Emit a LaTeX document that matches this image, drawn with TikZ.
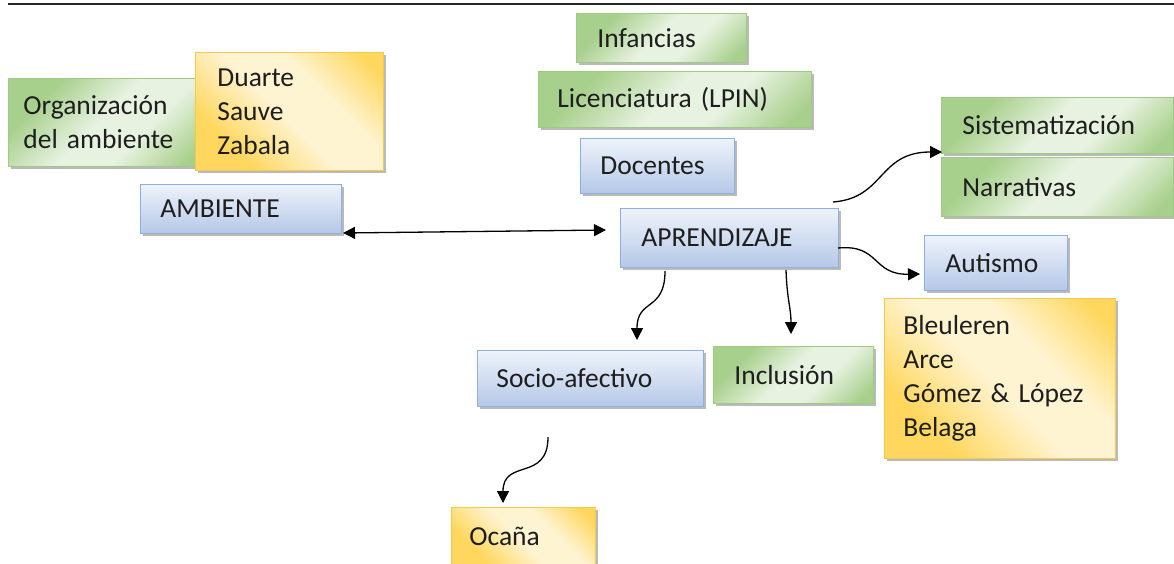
\documentclass[tikz,border=0pt]{standalone}
\usepackage{fontspec}
\setmainfont{Carlito}[WordSpace=0.8]
\usetikzlibrary{arrows.meta,shadows}
\definecolor{gD}{HTML}{A8D08D}
\definecolor{gL}{HTML}{E7F2E0}
\definecolor{gB}{HTML}{9FC985}
\definecolor{bT}{HTML}{EEF3FA}
\definecolor{bBt}{HTML}{B5C8E8}
\definecolor{bB}{HTML}{8FB0DE}
\definecolor{yD}{HTML}{FFD75E}
\definecolor{yL}{HTML}{FFF4D2}
\definecolor{yB}{HTML}{F5C94A}
\definecolor{txt}{HTML}{1E1E1E}
\pgfdeclarehorizontalshading{gsh}{100bp}{color(0bp)=(gD); color(28bp)=(gD); color(48bp)=(gL); color(62bp)=(gL); color(80bp)=(gD); color(100bp)=(gD)}
\pgfdeclarehorizontalshading{ysh}{100bp}{color(0bp)=(yD); color(28bp)=(yD); color(48bp)=(yL); color(62bp)=(yL); color(80bp)=(yD); color(100bp)=(yD)}
\tikzset{
  box/.style={rectangle, anchor=north west, inner ysep=0pt, align=left,
    text=txt, line width=0.8pt,
    font=\fontsize{27.5pt}{34pt}\selectfont,
    drop shadow={shadow xshift=3pt, shadow yshift=-3pt, fill=black!45, opacity=0.6}},
  gbox/.style={box, draw=gB, shade, shading=gsh, shading angle=-45},
  bbox/.style={box, draw=bB, top color=bT, bottom color=bBt},
  ybox/.style={box, draw=yB, shade, shading=ysh, shading angle=45},
  conn/.style={line width=1.3pt, -{Triangle[length=12pt,width=12pt]}},
}
\begin{document}
\begin{tikzpicture}[x=1pt,y=-1pt]
\useasboundingbox (0,0) rectangle (1174,563);
\coordinate (lineL) at (8,4);
\coordinate (lineR) at (1174,4);
\draw[line width=2.2pt, black!85] (lineL) -- (lineR);

\node[gbox, inner xsep=15pt, text width=165pt, minimum height=88pt] (org) at (8,78) {Organización\\del ambiente};
\node[ybox, inner xsep=22pt, text width=144pt, minimum height=118pt] (duarte) at (195,52) {Duarte\\Sauve\\Zabala};
\node[bbox, inner xsep=20pt, text width=161pt, minimum height=49pt] (amb) at (140,184) {AMBIENTE};

\node[gbox, inner xsep=21pt, text width=128pt, minimum height=49pt] (inf) at (576,13) {Infancias};
\node[gbox, inner xsep=19pt, text width=235pt, minimum height=56pt] (lic) at (538,71) {Licenciatura (LPIN)};
\node[bbox, inner xsep=20pt, text width=114pt, minimum height=55pt] (doc) at (580,138) {Docentes};
\node[bbox, inner xsep=21pt, text width=176pt, minimum height=59pt] (apr) at (620,208) {APRENDIZAJE};

\node[gbox, inner xsep=21pt, text width=190pt, minimum height=56pt] (sis) at (941,97) {Sistematización};
\node[gbox, inner xsep=21pt, text width=190pt, minimum height=59pt] (nar) at (941,157) {Narrativas};
\node[bbox, inner xsep=21pt, text width=101pt, minimum height=55pt] (aut) at (924,235) {Autismo};
\node[ybox, inner xsep=19pt, text width=193pt, minimum height=160pt] (bleu) at (884,298) {Bleuleren\\Arce\\Gómez \& López\\Belaga};

\node[bbox, inner xsep=19pt, text width=188pt, minimum height=56pt] (soc) at (477,350) {Socio-afectivo};
\node[gbox, inner xsep=21pt, text width=118pt, minimum height=57pt] (inc) at (713,346) {Inclusión};
\node[ybox, inner xsep=18pt, text width=108pt, minimum height=58pt] (oca) at (451,507) {Ocaña};

% connector ends
\coordinate (a1) at (343,233);
\coordinate (a2) at (606,230);
\coordinate (s1) at (833,202);
\coordinate (s2) at (942,152);
\coordinate (u1) at (838,248);
\coordinate (u2) at (920,274);
\coordinate (c1) at (665,271);
\coordinate (c2) at (637,340);
\coordinate (i1) at (786,270);
\coordinate (i2) at (791,334);
\coordinate (o1) at (548,437);
\coordinate (o2) at (503,503);

\draw[conn, {Triangle[length=12pt,width=12pt]}-{Triangle[length=12pt,width=12pt]}] (a1) -- (a2);
\draw[conn] (s1) .. controls (885,198) and (878,152) .. (s2);
\draw[conn] (u1) .. controls (880,244) and (872,275) .. (u2);
\draw[conn] (c1) .. controls (665,312) and (637,298) .. (c2);
\draw[conn] (i1) .. controls (787,300) and (791,308) .. (i2);
\draw[conn] (o1) .. controls (548,482) and (503,458) .. (o2);
\end{tikzpicture}
\end{document}
